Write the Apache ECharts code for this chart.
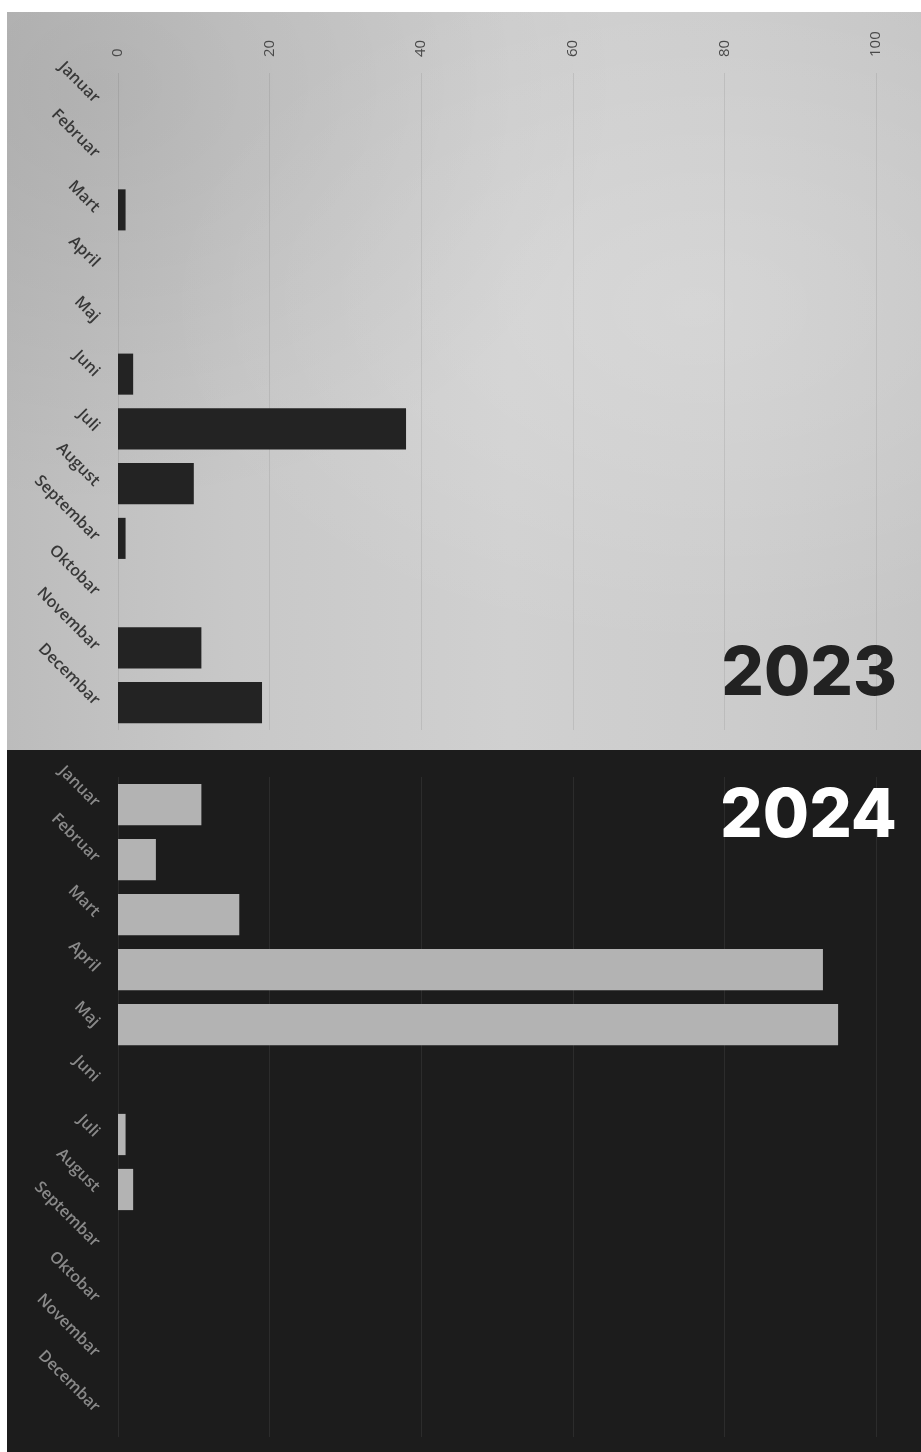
<!DOCTYPE html>
<html>
<head>
<meta charset="utf-8">
<script src="https://cdn.jsdelivr.net/npm/echarts@6/dist/echarts.min.js"></script>
<style>
  html, body { margin: 0; padding: 0; background: #ffffff; }
  #wrap { position: relative; width: 921px; height: 1452px; overflow: hidden; }
  #topPanel { position: absolute; left: 7px; top: 12px; width: 914px; height: 738px;
    background:
      radial-gradient(ellipse at 75% 40%, rgba(255,255,255,0.18), rgba(255,255,255,0) 55%),
      radial-gradient(ellipse at 10% 10%, rgba(0,0,0,0.08), rgba(0,0,0,0) 45%),
      linear-gradient(90deg, #bcbcbc 0%, #c8c8c8 25%, #d0d0d0 55%, #cccccc 80%, #c6c6c6 100%); }
  #bottomPanel { position: absolute; left: 7px; top: 750px; width: 914px; height: 702px; background: #1c1c1c; }
  #chart { position: absolute; left: 0; top: 0; width: 921px; height: 1452px; }
</style>
</head>
<body>
<div id="wrap">
  <div id="topPanel"></div>
  <div id="bottomPanel"></div>
  <div id="chart"></div>
</div>
<script>
const months = ['Januar','Februar','Mart','April','Maj','Juni','Juli','August','Septembar','Oktobar','Novembar','Decembar'];
const values2023 = [0, 0, 1, 0, 0, 2, 38, 10, 1, 0, 11, 19];
const values2024 = [11, 5, 16, 93, 95, 0, 1, 2, 0, 0, 0, 0];
const xMin = 0, xMax = 100, xInterval = 20;
const yearLabels = ['2023', '2024'];

const chart = echarts.init(document.getElementById('chart'), null, { renderer: 'canvas' });
const fontFamily = '"Open Sans", "Noto Sans", sans-serif';

const option = {
  backgroundColor: 'transparent',
  animation: false,
  grid: [
    { left: 118, right: 45, top: 73, height: 657 },
    { left: 118, right: 45, top: 777, height: 660 }
  ],
  xAxis: [
    {
      gridIndex: 0, type: 'value', position: 'top', min: xMin, max: xMax, interval: xInterval,
      axisLine: { show: false }, axisTick: { show: false },
      axisLabel: { rotate: -90, color: '#4a4a4a', fontSize: 15, margin: 16, fontFamily: fontFamily },
      splitLine: { show: true, lineStyle: { color: 'rgba(0,0,0,0.08)', width: 1 } }
    },
    {
      gridIndex: 1, type: 'value', position: 'top', min: xMin, max: xMax, interval: xInterval,
      axisLine: { show: false }, axisTick: { show: false },
      axisLabel: { show: false },
      splitLine: { show: true, lineStyle: { color: 'rgba(255,255,255,0.07)', width: 1 } }
    }
  ],
  yAxis: [
    {
      gridIndex: 0, type: 'category', data: months, inverse: true,
      axisLine: { show: false }, axisTick: { show: false },
      axisLabel: { rotate: -45, color: '#383838', fontSize: 16, fontWeight: 600, margin: 21, padding: [14, 0, 0, 0], fontFamily: fontFamily, interval: 0 }
    },
    {
      gridIndex: 1, type: 'category', data: months, inverse: true,
      axisLine: { show: false }, axisTick: { show: false },
      axisLabel: { rotate: -45, color: '#8a8a8a', fontSize: 16, fontWeight: 600, margin: 21, padding: [14, 0, 0, 0], fontFamily: fontFamily, interval: 0 }
    }
  ],
  series: [
    {
      name: yearLabels[0], type: 'bar', xAxisIndex: 0, yAxisIndex: 0, data: values2023,
      barCategoryGap: '25%', itemStyle: { color: '#232323' }
    },
    {
      name: yearLabels[1], type: 'bar', xAxisIndex: 1, yAxisIndex: 1, data: values2024,
      barCategoryGap: '25%', itemStyle: { color: '#b3b3b3' }
    }
  ],
  graphic: [
    {
      type: 'text', right: 24, top: 641,
      style: { text: yearLabels[0], font: '800 67px Inter, "Noto Sans", sans-serif', fill: '#222222' }
    },
    {
      type: 'text', right: 24, top: 783,
      style: { text: yearLabels[1], font: '800 67px Inter, "Noto Sans", sans-serif', fill: '#ffffff' }
    }
  ]
};
chart.setOption(option);
</script>
</body>
</html>
